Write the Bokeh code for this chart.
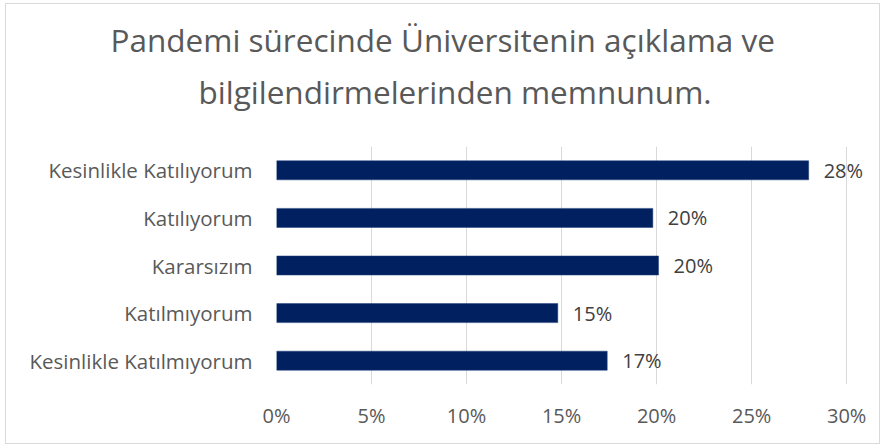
from bokeh.plotting import figure
from bokeh.models import (FactorRange, Range1d, NumeralTickFormatter, FixedTicker,
                          ColumnDataSource, Title)
from bokeh.embed import file_html
from bokeh.resources import INLINE

# ---- data ----
categories = ["Kesinlikle Katılıyorum", "Katılıyorum", "Kararsızım",
              "Katılmıyorum", "Kesinlikle Katılmıyorum"]
values = [0.280, 0.198, 0.201, 0.148, 0.174]
value_labels = ["28%", "20%", "20%", "15%", "17%"]
x_ticks = [0, 0.05, 0.10, 0.15, 0.20, 0.25, 0.30]
title_lines = ["Pandemi sürecinde Üniversitenin açıklama ve",
               "bilgilendirmelerinden memnunum."]

FONT = "Open Sans"
GREY = "#595959"

W, H = 875, 441
p = figure(width=W, height=H, output_backend="svg", toolbar_location=None,
           y_range=FactorRange(factors=categories[::-1]),
           x_range=Range1d(0, 0.312),
           min_border_left=270, min_border_right=12,
           min_border_top=142, min_border_bottom=61)
p.styles = {"border": "1px solid #d9d9d9", "margin-left": "5px", "margin-top": "3px"}

src = ColumnDataSource(dict(cat=categories, val=values, lab=value_labels))
p.hbar(y="cat", right="val", left=0, height=0.4, source=src,
       fill_color="#002060", line_color="#1f3f7a", line_width=0.5)
p.text(x="val", y="cat", text="lab", source=src, x_offset=15,
       text_baseline="middle", text_align="left",
       text_font_size="20px", text_color="#404040", text_font={"value": FONT})

p.outline_line_color = None
p.background_fill_color = "white"
p.border_fill_color = "white"

p.ygrid.grid_line_color = None
p.xgrid.grid_line_color = "#d9d9d9"
p.xgrid.grid_line_width = 1

p.xaxis.ticker = FixedTicker(ticks=x_ticks)
p.xaxis.formatter = NumeralTickFormatter(format="0%")
for ax in (p.xaxis[0], p.yaxis[0]):
    ax.axis_line_color = None
    ax.major_tick_line_color = None
    ax.minor_tick_line_color = None
    ax.major_tick_out = 0
    ax.major_tick_in = 0
    ax.major_label_text_font = FONT
    ax.major_label_text_color = GREY
    ax.major_label_text_font_style = "normal"
p.xaxis.major_label_text_font_size = "20px"
p.xaxis.major_label_standoff = 17
p.yaxis.major_label_text_font_size = "20.5px"
p.yaxis.major_label_standoff = 24

# titles: the first added sits closest to the plot
for txt, so, off in [(title_lines[1], 67, -78), (title_lines[0], -53, -166)]:
    p.add_layout(Title(text=txt, align="left", offset=off, text_font=FONT,
                       text_font_size="31.5px", text_color=GREY,
                       text_font_style="normal", standoff=so), "above")

open("out.html", "w").write(file_html(p, INLINE))
